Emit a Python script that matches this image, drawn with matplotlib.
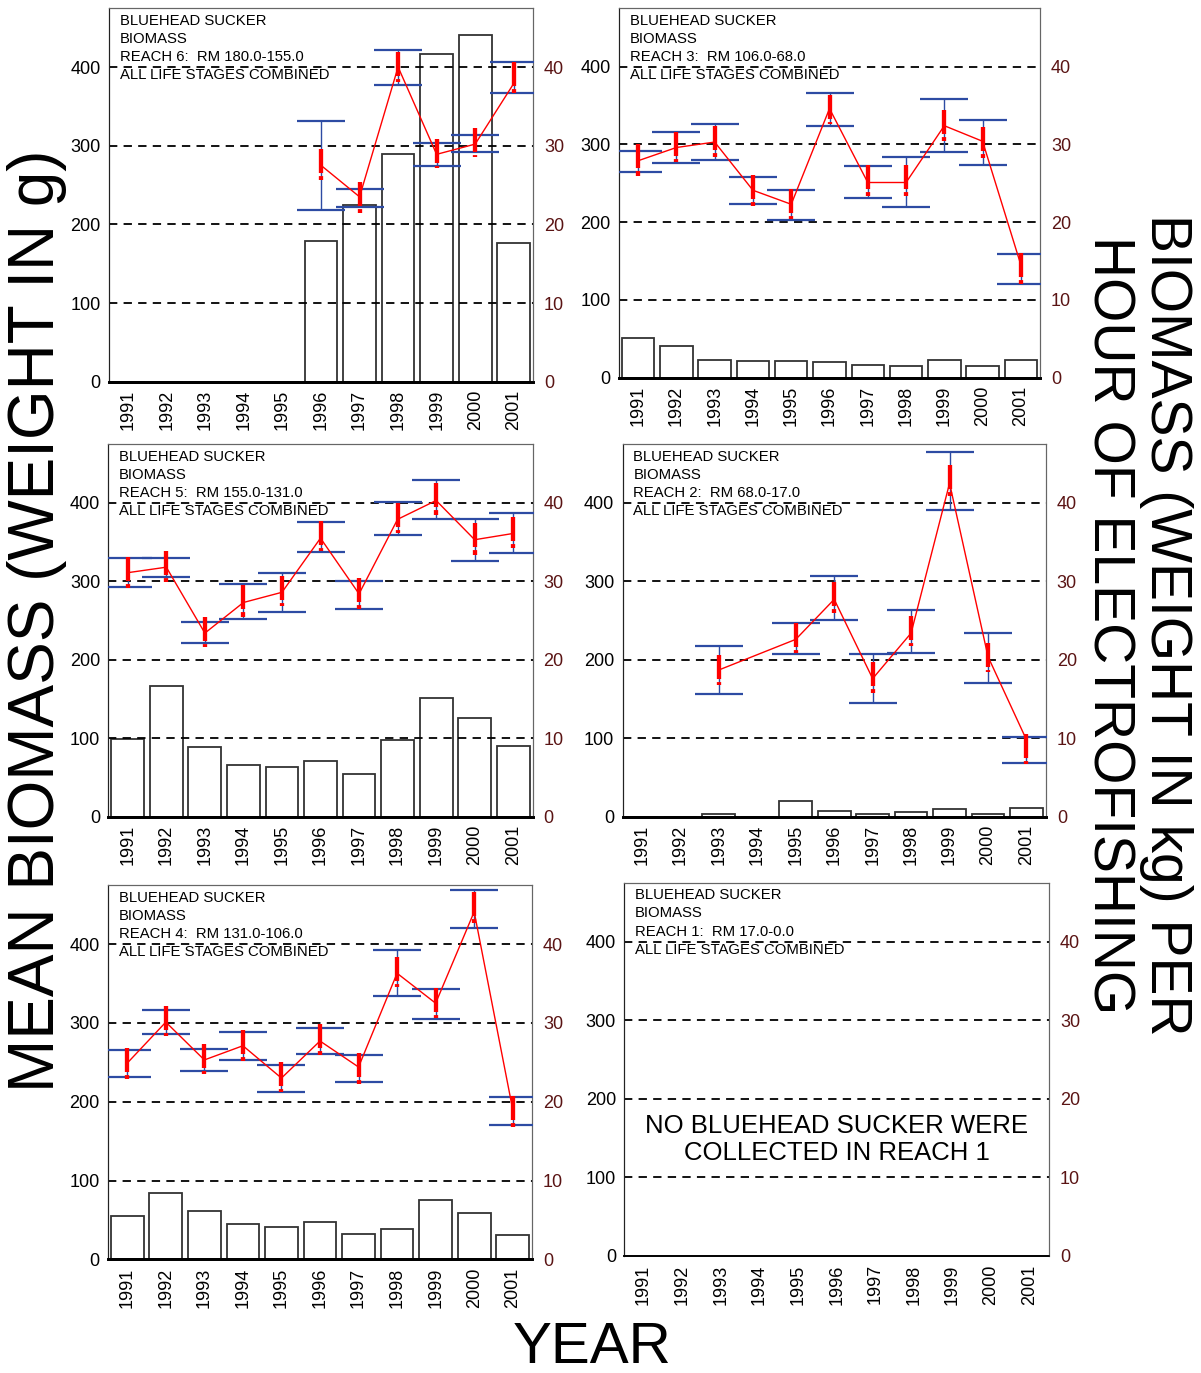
import numpy as np
import matplotlib.pyplot as plt

plt.rcParams['font.family'] = ['Liberation Sans', 'DejaVu Sans']
plt.rcParams['lines.scale_dashes'] = False

nan = np.nan
years = ['1991', '1992', '1993', '1994', '1995', '1996', '1997', '1998', '1999', '2000', '2001']

# mean biomass (g) per fish -> bars, left axis
bars6 = [0, 0, 0, 0, 0, 179, 224, 289, 417, 441, 176]
bars3 = [50.6, 40.7, 22.3, 21.4, 21.4, 20.2, 15.9, 15.0, 23.2, 15.4, 22.3]
bars5 = [98.9, 166.9, 89.2, 65.4, 62.8, 71.3, 53.9, 97.7, 151.6, 125.7, 90.4]
bars2 = [0, 0, 3.0, 0, 19.5, 6.8, 3.4, 5.9, 9.3, 3.0, 11.5]
bars4 = [55.0, 83.8, 61.0, 44.4, 41.5, 47.8, 31.7, 38.9, 75.3, 58.4, 30.9]

# biomass (kg) per hour of electrofishing -> right axis
mean6 = [nan, nan, nan, nan, nan, 27.5, 23.5, 40.0, 28.9, 30.2, 37.9]
lo6 = [nan, nan, nan, nan, nan, 21.8, 22.2, 37.7, 27.4, 29.2, 36.7]
hi6 = [nan, nan, nan, nan, nan, 33.2, 24.5, 42.2, 30.4, 31.4, 40.6]
redhi6 = [nan, nan, nan, nan, nan, 29.6, 25.4, 41.9, 30.9, 32.3, 40.6]
redlo6 = [nan, nan, nan, nan, nan, 25.7, 21.5, 38.1, 27.1, 28.5, 36.7]

mean3 = [27.9, 29.6, 30.3, 24.1, 22.3, 34.6, 25.1, 25.1, 32.4, 30.4, 14.5]
lo3 = [26.4, 27.6, 28.0, 22.3, 20.3, 32.4, 23.1, 21.9, 29.0, 27.4, 12.1]
hi3 = [29.2, 31.6, 32.6, 25.8, 24.1, 36.6, 27.2, 28.4, 35.8, 33.1, 15.9]
redhi3 = [30.0, 31.6, 32.4, 26.1, 24.3, 36.4, 27.3, 27.3, 34.4, 32.3, 16.0]
redlo3 = [26.0, 27.7, 28.4, 22.1, 20.4, 32.6, 23.3, 23.3, 30.5, 28.3, 12.1]

mean5 = [31.1, 31.8, 23.4, 27.3, 28.6, 35.5, 28.4, 37.9, 40.3, 35.3, 36.1]
lo5 = [29.3, 30.6, 22.1, 25.2, 26.1, 33.7, 26.5, 35.9, 37.9, 32.6, 33.6]
hi5 = [33.0, 33.0, 24.8, 29.6, 31.1, 37.5, 30.1, 40.1, 42.9, 38.0, 38.7]
redhi5 = [33.1, 33.8, 25.5, 29.5, 30.7, 37.7, 30.4, 40.0, 42.5, 37.4, 38.2]
redlo5 = [29.2, 29.9, 21.6, 25.5, 26.8, 33.8, 26.5, 36.1, 38.5, 33.4, 34.3]

mean2 = [nan, nan, 18.7, nan, 22.6, 27.7, 17.6, 23.4, 42.5, 20.4, 9.8]
lo2 = [nan, nan, 15.6, nan, 20.7, 25.1, 14.5, 20.9, 39.1, 17.0, 6.9]
hi2 = [nan, nan, 21.8, nan, 24.7, 30.7, 20.7, 26.4, 46.5, 23.4, 10.1]
redhi2 = [nan, nan, 20.6, nan, 24.7, 29.9, 19.7, 25.6, 44.8, 22.2, 10.5]
redlo2 = [nan, nan, 16.8, nan, 20.8, 26.0, 15.8, 21.8, 40.9, 18.4, 6.7]

mean4 = [24.9, 30.1, 25.3, 27.1, 23.0, 27.7, 24.4, 36.3, 32.5, 44.1, 19.0]
lo4 = [23.1, 28.6, 23.9, 25.3, 21.2, 26.1, 22.5, 33.4, 30.5, 42.1, 17.0]
hi4 = [26.5, 31.6, 26.7, 28.8, 24.7, 29.4, 25.9, 39.3, 34.3, 46.9, 20.6]
redhi4 = [26.8, 32.2, 27.3, 29.1, 25.0, 29.8, 26.2, 38.4, 34.4, 46.6, 20.7]
redlo4 = [22.9, 28.3, 23.5, 25.2, 21.2, 25.9, 22.3, 34.5, 30.6, 42.7, 16.8]

titles = {
    6: 'REACH 6:  RM 180.0-155.0',
    3: 'REACH 3:  RM 106.0-68.0',
    5: 'REACH 5:  RM 155.0-131.0',
    2: 'REACH 2:  RM 68.0-17.0',
    4: 'REACH 4:  RM 131.0-106.0',
    1: 'REACH 1:  RM 17.0-0.0',
}

W, H = 1201, 1373
fig = plt.figure(figsize=(W / 100, H / 100), dpi=100)

# panel boxes in pixels: left, top, right, bottom
boxes = {
    6: (109, 8, 533, 381.7),
    3: (619, 8.3, 1040, 377.7),
    5: (108.5, 444, 532.5, 816.7),
    2: (622.7, 444, 1045.7, 816.7),
    4: (108, 885, 532, 1259.3),
    1: (624.3, 882.7, 1049, 1256),
}

panels = {
    6: (bars6, mean6, lo6, hi6, redhi6, redlo6),
    3: (bars3, mean3, lo3, hi3, redhi3, redlo3),
    5: (bars5, mean5, lo5, hi5, redhi5, redlo5),
    2: (bars2, mean2, lo2, hi2, redhi2, redlo2),
    4: (bars4, mean4, lo4, hi4, redhi4, redlo4),
    1: None,
}

right_col = '#5a1414'
x = np.arange(len(years))

for reach, (l, t, r, b) in boxes.items():
    ax = fig.add_axes([l / W, 1 - b / H, (r - l) / W, (b - t) / H])
    ax.set_xlim(-0.5, 10.5)
    ax.set_ylim(0, 475)
    ax2 = ax.twinx()
    ax2.set_ylim(0, 47.5)

    for v in [100, 200, 300, 400]:
        ax.axhline(v, color='black', lw=1.3, ls=(0, (6, 4.5)), zorder=3)

    ax.set_yticks([0, 100, 200, 300, 400])
    ax.set_xticks(x)
    ax.set_xticklabels(years, rotation=90, fontsize=13)
    ax.tick_params(axis='both', length=0, labelsize=13, pad=6)
    ax2.set_yticks([0, 10, 20, 30, 40])
    ax2.tick_params(axis='y', length=0, labelsize=13, labelcolor=right_col, pad=8)

    for a in (ax, ax2):
        for s in ['top', 'right']:
            a.spines[s].set_color('#666666')
        a.spines['left'].set_color('#222222')
        a.spines['bottom'].set_color('black')
        a.spines['bottom'].set_linewidth(2 if panels[reach] else 1.2)

    ax.text(0.025, 0.985, 'BLUEHEAD SUCKER\nBIOMASS\n' + titles[reach] + '\nALL LIFE STAGES COMBINED',
            transform=ax.transAxes, ha='left', va='top', fontsize=10.7, linespacing=1.38, zorder=5)

    if panels[reach] is None:
        ax.text(0.5, 0.313, 'NO BLUEHEAD SUCKER WERE\nCOLLECTED IN REACH 1', transform=ax.transAxes,
                ha='center', va='center', fontsize=18.5, linespacing=1.15)
        continue

    bars, mean, lo, hi, redhi, redlo = [np.array(v, dtype=float) for v in panels[reach]]
    ax.bar(x, bars, width=0.85, color='white', edgecolor='#333333', lw=1.3, zorder=2)

    ok = ~np.isnan(mean)
    # blue confidence bars with caps
    ax2.errorbar(x[ok], mean[ok], yerr=[mean[ok] - lo[ok], hi[ok] - mean[ok]], fmt='none',
                 ecolor='#2d4ba3', elinewidth=1, capsize=17, capthick=1.6, zorder=3)
    ax2.plot(x[ok], mean[ok], color='red', lw=1, zorder=4)
    # thick red dash + dot below it
    for xi, h, lw_ in zip(x[ok], redhi[ok], redlo[ok]):
        ax2.plot([xi, xi], [h, lw_], color='red', lw=3.1,
                 ls=(0, (17.3, 2.2, 3.6, 60)), dash_capstyle='butt', zorder=5)

fig.text(0.031, 0.548, 'MEAN BIOMASS (WEIGHT IN g)', rotation=90, ha='center', va='center', fontsize=46)
fig.text(0.947, 0.545, 'BIOMASS (WEIGHT IN kg) PER\nHOUR OF ELECTROFISHING', rotation=-90,
         ha='center', va='center', fontsize=41, linespacing=1.07, multialignment='center')
fig.text(0.493, 0.018, 'YEAR', ha='center', va='center', fontsize=42)

fig.savefig('out.png', dpi=100)
